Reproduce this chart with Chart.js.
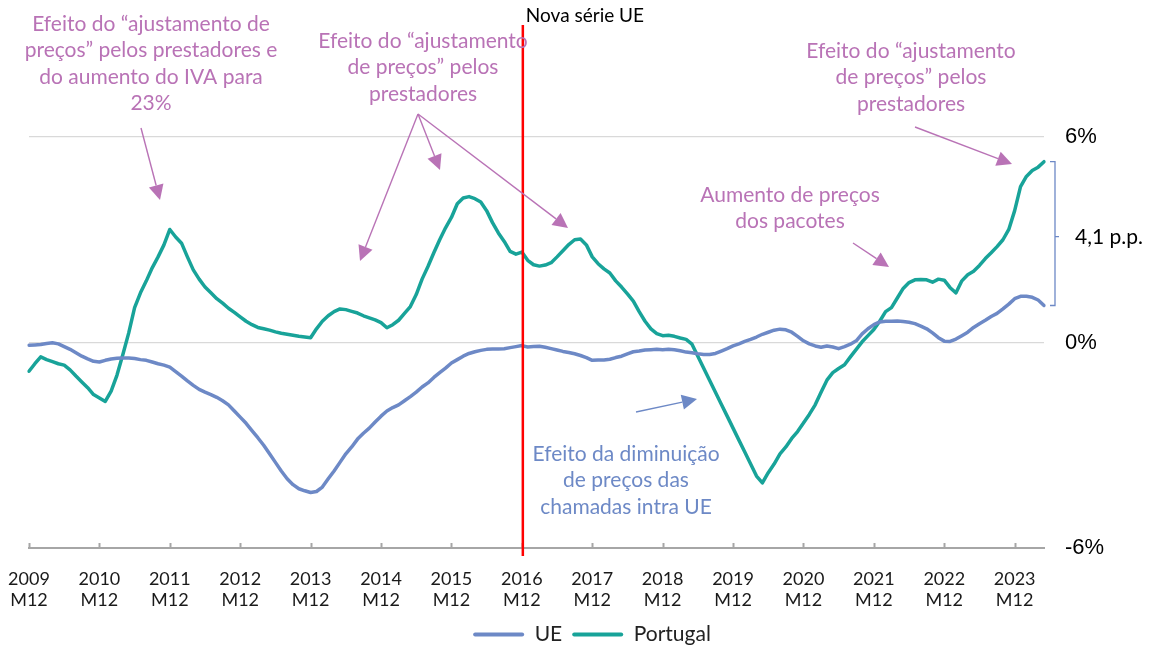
<!DOCTYPE html>
<html>
<head>
<meta charset="utf-8">
<script src="https://cdn.jsdelivr.net/npm/chart.js@4.4.1/dist/chart.umd.min.js"></script>
<style>
  html, body { margin: 0; padding: 0; background: #fff; }
  #wrap { width: 1155px; height: 648px; }
</style>
</head>
<body>
<div id="wrap"><canvas id="chart" width="1155" height="648"></canvas></div>
<script>
// Monthly categories, 2009 M12 .. 2024 M5
const months = [];
for (let i = 0; i < 174; i++) {
    const m = ((i + 11) % 12) + 1;
    const yr = 2009 + Math.floor((i + 11) / 12);
    months.push(`${yr} M${m}`);
}

// Year-on-year change (%), one row per year starting at M12
const ue = [
    -0.08, -0.07, -0.06, -0.03, -0.01, -0.04, -0.12, -0.20, -0.30, -0.40, -0.48, -0.55,
    -0.57, -0.52, -0.48, -0.46, -0.45, -0.45, -0.47, -0.50, -0.52, -0.57, -0.62, -0.66,
    -0.72, -0.85, -0.98, -1.12, -1.25, -1.37, -1.45, -1.52, -1.60, -1.70, -1.82, -2.00,
    -2.18, -2.36, -2.57, -2.78, -3.00, -3.25, -3.50, -3.75, -3.98, -4.15, -4.27, -4.33,
    -4.38, -4.35, -4.22, -3.98, -3.75, -3.50, -3.25, -3.05, -2.82, -2.65, -2.50, -2.32,
    -2.15, -2.00, -1.90, -1.82, -1.70, -1.58, -1.45, -1.30, -1.18, -1.02, -0.88, -0.75,
    -0.60, -0.50, -0.40, -0.32, -0.27, -0.23, -0.20, -0.19, -0.19, -0.18, -0.15, -0.12,
    -0.09, -0.13, -0.12, -0.11, -0.14, -0.18, -0.22, -0.26, -0.29, -0.33, -0.38, -0.44,
    -0.52, -0.51, -0.51, -0.49, -0.44, -0.40, -0.33, -0.27, -0.25, -0.22, -0.21, -0.20,
    -0.21, -0.20, -0.21, -0.24, -0.28, -0.30, -0.33, -0.35, -0.35, -0.32, -0.25, -0.18,
    -0.10, -0.04, 0.03, 0.09, 0.16, 0.24, 0.30, 0.36, 0.39, 0.37, 0.30, 0.18,
    0.05, -0.04, -0.10, -0.14, -0.10, -0.13, -0.18, -0.12, -0.05, 0.05, 0.25, 0.40,
    0.52, 0.60, 0.62, 0.62, 0.63, 0.61, 0.59, 0.55, 0.48, 0.40, 0.28, 0.14,
    0.04, 0.03, 0.10, 0.20, 0.30, 0.44, 0.55, 0.65, 0.76, 0.85, 0.98, 1.12,
    1.28, 1.35, 1.35, 1.32, 1.24, 1.08
];

const portugal = [
    -0.84, -0.62, -0.42, -0.50, -0.56, -0.62, -0.66, -0.80, -0.98, -1.15, -1.32, -1.52,
    -1.62, -1.72, -1.42, -0.95, -0.35, 0.28, 1.02, 1.45, 1.80, 2.18, 2.50, 2.85,
    3.30, 3.08, 2.90, 2.50, 2.12, 1.85, 1.62, 1.45, 1.28, 1.15, 1.00, 0.88,
    0.75, 0.62, 0.52, 0.44, 0.40, 0.36, 0.31, 0.27, 0.24, 0.21, 0.18, 0.16,
    0.14, 0.40, 0.62, 0.78, 0.90, 0.98, 0.96, 0.91, 0.86, 0.78, 0.72, 0.66,
    0.58, 0.43, 0.52, 0.65, 0.85, 1.05, 1.40, 1.85, 2.22, 2.62, 3.00, 3.35,
    3.65, 4.05, 4.22, 4.26, 4.20, 4.10, 3.85, 3.50, 3.20, 2.95, 2.66, 2.58,
    2.64, 2.40, 2.27, 2.23, 2.26, 2.33, 2.50, 2.68, 2.86, 3.00, 3.02, 2.85,
    2.50, 2.30, 2.15, 2.03, 1.80, 1.62, 1.42, 1.21, 0.90, 0.62, 0.40, 0.26,
    0.20, 0.21, 0.18, 0.13, 0.09, -0.05, -0.40, -0.75, -1.10, -1.45, -1.80, -2.15,
    -2.50, -2.85, -3.20, -3.55, -3.90, -4.10, -3.80, -3.55, -3.25, -3.05, -2.80, -2.60,
    -2.35, -2.10, -1.82, -1.45, -1.10, -0.88, -0.76, -0.65, -0.42, -0.20, 0.02, 0.20,
    0.38, 0.62, 0.90, 1.02, 1.30, 1.58, 1.75, 1.83, 1.84, 1.83, 1.76, 1.85,
    1.82, 1.60, 1.45, 1.80, 1.98, 2.08, 2.25, 2.45, 2.62, 2.80, 3.00, 3.30,
    3.85, 4.55, 4.85, 5.02, 5.12, 5.28
];

const yTicks = [-6, 0, 6];
const newSeriesAt = '2016 M12';
const gapLabel = '4,1 p.p.';

const PINK = '#B973B6';
const BLUE = '#6D89C6';
const TEAL = '#18A399';

// text notes and arrows (pixel positions of the annotation layer)
const notes = [
    { color: PINK, x: 151, y: 24, lines: ['Efeito do \u201cajustamento de', 'pre\u00e7os\u201d pelos prestadores e', 'do aumento do IVA para', '23%'] },
    { color: PINK, x: 423, y: 41, lines: ['Efeito do \u201cajustamento', 'de pre\u00e7os\u201d pelos', 'prestadores'] },
    { color: PINK, x: 911, y: 51, lines: ['Efeito do \u201cajustamento', 'de pre\u00e7os\u201d pelos', 'prestadores'] },
    { color: PINK, x: 790, y: 195, lines: ['Aumento de pre\u00e7os', 'dos pacotes'] },
    { color: BLUE, x: 626, y: 454, lines: ['Efeito da diminui\u00e7\u00e3o', 'de pre\u00e7os das', 'chamadas intra UE'] }
];
const arrows = [
    { color: PINK, from: [141, 128], to: [160, 200] },
    { color: PINK, from: [418, 114], to: [360, 261] },
    { color: PINK, from: [418, 114], to: [440, 170] },
    { color: PINK, from: [418, 114], to: [568, 228] },
    { color: PINK, from: [915, 127], to: [1012, 164] },
    { color: PINK, from: [853, 243], to: [889, 267] },
    { color: BLUE, from: [636, 412], to: [697, 399] }
];

function drawArrow(ctx, a) {
    const [x1, y1] = a.from;
    const [x2, y2] = a.to;
    const ang = Math.atan2(y2 - y1, x2 - x1);
    const len = 15, half = 7.5;
    const bx = x2 - len * Math.cos(ang), by = y2 - len * Math.sin(ang);
    ctx.strokeStyle = a.color;
    ctx.fillStyle = a.color;
    ctx.lineWidth = 1.4;
    ctx.beginPath();
    ctx.moveTo(x1, y1);
    ctx.lineTo(bx, by);
    ctx.stroke();
    ctx.beginPath();
    ctx.moveTo(x2, y2);
    ctx.lineTo(bx + half * Math.sin(ang), by - half * Math.cos(ang));
    ctx.lineTo(bx - half * Math.sin(ang), by + half * Math.cos(ang));
    ctx.closePath();
    ctx.fill();
}

const annotations = {
    id: 'annotations',
    afterDraw(chart) {
        const { ctx, chartArea, scales: { x, y } } = chart;
        ctx.save();

        // small inward tick marks on the category axis, one per year
        ctx.strokeStyle = '#A6A6A6';
        ctx.lineWidth = 2;
        months.forEach((m, i) => {
            if (!m.endsWith('M12')) return;
            const px = Math.round(x.getPixelForValue(i)) + 0.5;
            ctx.beginPath();
            ctx.moveTo(px, chartArea.bottom);
            ctx.lineTo(px, chartArea.bottom - 5);
            ctx.stroke();
        });

        // break in the EU series
        const rx = x.getPixelForValue(months.indexOf(newSeriesAt)) + 1;
        ctx.strokeStyle = '#FF0000';
        ctx.lineWidth = 2.5;
        ctx.beginPath();
        ctx.moveTo(rx, 25);
        ctx.lineTo(rx, chartArea.bottom + 8);
        ctx.stroke();
        ctx.fillStyle = '#000';
        ctx.font = '19px Lato';
        ctx.textAlign = 'left';
        ctx.textBaseline = 'middle';
        ctx.fillText('Nova s\u00e9rie UE', rx + 3, 16);

        // bracket between the last values
        const last = portugal.length - 1;
        const top = y.getPixelForValue(portugal[last]);
        const bot = y.getPixelForValue(ue[last]);
        const bx = chartArea.right + 11;
        const mid = (top + bot) / 2 + 3;
        ctx.strokeStyle = BLUE;
        ctx.lineWidth = 1.3;
        ctx.beginPath();
        ctx.moveTo(bx - 5, top);
        ctx.lineTo(bx, top);
        ctx.lineTo(bx, bot);
        ctx.lineTo(bx - 5, bot);
        ctx.moveTo(bx, mid);
        ctx.lineTo(bx + 4, mid);
        ctx.stroke();
        ctx.fillStyle = '#000';
        ctx.font = '21px Lato';
        ctx.fillText(gapLabel, bx + 20, mid + 1);

        // notes
        ctx.font = '21px Lato';
        ctx.textAlign = 'center';
        notes.forEach(n => {
            ctx.fillStyle = n.color;
            n.lines.forEach((t, k) => ctx.fillText(t, n.x, n.y + k * 26.5));
        });
        arrows.forEach(a => drawArrow(ctx, a));

        ctx.restore();
    }
};

const ctx = document.getElementById('chart').getContext('2d');
new Chart(ctx, {
    type: 'line',
    data: {
        labels: months,
        datasets: [
            {
                label: 'UE',
                data: ue,
                borderColor: BLUE,
                backgroundColor: BLUE,
                borderWidth: 3.5,
                pointRadius: 0,
                tension: 0,
                borderJoinStyle: 'round',
                borderCapStyle: 'round'
            },
            {
                label: 'Portugal',
                data: portugal,
                borderColor: TEAL,
                backgroundColor: TEAL,
                borderWidth: 3.5,
                pointRadius: 0,
                tension: 0,
                borderJoinStyle: 'round',
                borderCapStyle: 'round'
            }
        ]
    },
    options: {
        responsive: false,
        animation: false,
        devicePixelRatio: 1,
        layout: { padding: { top: 137, left: 29, right: 0, bottom: -7 } },
        plugins: {
            tooltip: { enabled: false },
            legend: {
                position: 'bottom',
                labels: {
                    font: { family: 'Lato', size: 21 },
                    color: '#222',
                    boxWidth: 51,
                    boxHeight: 4,
                    padding: 10,
                    useBorderRadius: true,
                    borderRadius: 2,
                    generateLabels: (chart) =>
                        Chart.defaults.plugins.legend.labels.generateLabels(chart)
                            .map(l => ({ ...l, lineWidth: 0 }))
                }
            }
        },
        scales: {
            x: {
                grid: { display: false, drawTicks: false },
                border: { display: true, color: '#A6A6A6', width: 2 },
                ticks: {
                    autoSkip: false,
                    maxRotation: 0,
                    minRotation: 0,
                    padding: 20,
                    color: '#1a1a1a',
                    font: { family: 'Lato', size: 18 },
                    callback: function (value) {
                        const lab = this.getLabelForValue(value);
                        return lab.endsWith('M12') ? lab.split(' ') : '';
                    }
                },
                afterFit: (scale) => {
                    scale.height = 66;
                    scale.paddingLeft = 0;
                    scale.paddingRight = 0;
                }
            },
            y: {
                position: 'right',
                min: yTicks[0],
                max: yTicks[yTicks.length - 1],
                afterBuildTicks: (scale) => { scale.ticks = yTicks.map(v => ({ value: v })); },
                grid: {
                    drawTicks: false,
                    color: (c) => (c.tick && c.tick.value === -6) ? 'rgba(0,0,0,0)' : '#D9D9D9',
                    lineWidth: 1.3
                },
                border: { display: false },
                ticks: {
                    padding: 21,
                    color: '#000',
                    font: { family: 'Liberation Sans', size: 22 },
                    callback: (v) => v + '%'
                },
                afterFit: (scale) => { scale.width = 111; }
            }
        }
    },
    plugins: [annotations]
});
</script>
</body>
</html>
